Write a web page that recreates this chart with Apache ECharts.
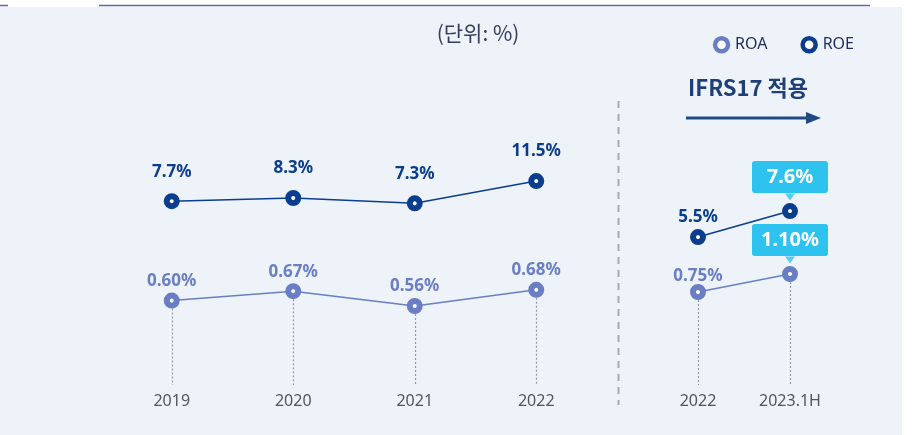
<!DOCTYPE html>
<html>
<head>
<meta charset="utf-8">
<script src="https://cdn.jsdelivr.net/npm/echarts@6/dist/echarts.min.js"></script>
<style>
  html, body { margin: 0; padding: 0; background: #fff; }
  #main { width: 916px; height: 435px; }
</style>
</head>
<body>
<div id="main"></div>
<script>
// data
const years = ['2019', '2020', '2021', '2022']
const roeBefore = [7.7, 8.3, 7.3, 11.5]
const roaBefore = [0.60, 0.67, 0.56, 0.68]
const periodsAfter = ['2022', '2023.1H']
const roeAfter = [5.5, 7.6]
const roaAfter = [0.75, 1.10]

const NAVY = '#0b3d8e'
const ROA_C = '#6a7ec3'
const CYAN = '#2ec3ef'
const FONT = "'Noto Sans', 'Noto Sans CJK KR', sans-serif"

const roaMinL = -0.025, roaMinR = -1.058

let myChart = echarts.init(document.getElementById('main'))

function pointStyle(color) {
  return { color: '#fff', borderColor: color, borderWidth: 6 }
}

function valueLabel(color, digits, distance) {
  return {
    show: true, position: 'top', distance: distance,
    color: color, fontSize: 17, fontWeight: 'bold', fontFamily: FONT,
    formatter: p => p.value.toFixed(digits) + '%'
  }
}

// last point of the right side gets the cyan callout box
function calloutData(values, digits) {
  return values.map((v, i) => {
    if (i < values.length - 1) return v
    return {
      value: v,
      label: {
        show: true, position: 'top', distance: 10,
        backgroundColor: CYAN, color: '#fff', borderRadius: 3,
        fontSize: 20, fontWeight: 'bold', fontFamily: FONT,
        width: 76, height: 22, lineHeight: 22, padding: [5, 0], align: 'center',
        formatter: p => p.value.toFixed(digits) + '%'
      }
    }
  })
}

function dropLines(cats, values, min) {
  return {
    silent: true, symbol: 'none', label: { show: false },
    lineStyle: { type: [2, 2], color: '#9a9a9a', width: 1.2 },
    data: cats.map((c, i) => [{ coord: [c, values[i]] }, { coord: [c, min] }])
  }
}

const xCommon = {
  type: 'category', boundaryGap: true,
  axisLine: { show: false }, axisTick: { show: false }, splitLine: { show: false },
  axisLabel: { color: '#555', fontSize: 16, fontFamily: FONT, margin: 8 }
}

const option = {
  backgroundColor: '#fff',
  animation: false,
  textStyle: { fontFamily: FONT },
  legend: {
    right: 57, top: 31,
    itemWidth: 13, itemHeight: 13, itemGap: 33,
    textStyle: { color: '#1d2b5c', fontSize: 16, fontFamily: FONT, padding: [0, 0, 0, 2] },
    data: [
      { name: 'ROA', icon: 'circle', itemStyle: { color: '#fff', borderColor: ROA_C, borderWidth: 4.5 } },
      { name: 'ROE', icon: 'circle', itemStyle: { color: '#fff', borderColor: NAVY, borderWidth: 4.5 } }
    ],
    selectedMode: false
  },
  graphic: [
    { type: 'rect', z: -10, shape: { x: 0, y: 7, width: 902, height: 428 }, style: { fill: '#eef3fa' } },
    { type: 'line', shape: { x1: 99, y1: 5.5, x2: 870, y2: 5.5 }, style: { stroke: '#5f67a8', lineWidth: 1.5 } },
    { type: 'line', shape: { x1: 0, y1: 5.5, x2: 8, y2: 5.5 }, style: { stroke: '#5f67a8', lineWidth: 1.5 } },
    { type: 'text', x: 478, y: 33, style: { text: '(단위: %)', fill: '#363c5a', fontSize: 21, fontFamily: "'Noto Sans CJK KR', sans-serif", align: 'center', verticalAlign: 'middle' } },
    { type: 'text', x: 748, y: 88, style: { text: 'IFRS17 적용', fill: '#1f3f78', fontSize: 22, fontWeight: 'bold', fontFamily: "'Noto Sans CJK KR', sans-serif", align: 'center', verticalAlign: 'middle' } },
    { type: 'line', shape: { x1: 686, y1: 118, x2: 810, y2: 118 }, style: { stroke: '#1f4a82', lineWidth: 3 } },
    { type: 'polygon', shape: { points: [[806, 112], [821, 118], [806, 124]] }, style: { fill: '#1f4a82' } },
    { type: 'line', shape: { x1: 618.5, y1: 101, x2: 618.5, y2: 405 }, style: { stroke: '#aaaaaa', lineWidth: 2, lineDash: [7, 6] } }
  ],
  grid: [
    { left: 111, width: 486, top: 100, bottom: 50 },
    { left: 652, width: 184, top: 100, bottom: 50 }
  ],
  xAxis: [
    Object.assign({ gridIndex: 0, data: years }, xCommon),
    Object.assign({ gridIndex: 1, data: periodsAfter }, xCommon)
  ],
  yAxis: [
    { gridIndex: 0, type: 'value', show: false, min: -27, max: 26.8 },
    { gridIndex: 0, type: 'value', show: false, min: roaMinL, max: 2.086 },
    { gridIndex: 1, type: 'value', show: false, min: -6.45, max: 16.57 },
    { gridIndex: 1, type: 'value', show: false, min: roaMinR, max: 4.483 }
  ],
  series: [
    {
      name: 'ROE', type: 'line', xAxisIndex: 0, yAxisIndex: 0, data: roeBefore,
      symbol: 'circle', symbolSize: 10, z: 5,
      lineStyle: { color: NAVY, width: 1.5 }, itemStyle: pointStyle(NAVY),
      label: valueLabel(NAVY, 1, 13), emphasis: { disabled: true }
    },
    {
      name: 'ROA', type: 'line', xAxisIndex: 0, yAxisIndex: 1, data: roaBefore,
      symbol: 'circle', symbolSize: 10, z: 5,
      lineStyle: { color: ROA_C, width: 1.5 }, itemStyle: pointStyle(ROA_C),
      label: valueLabel(ROA_C, 2, 3), emphasis: { disabled: true },
      markLine: dropLines(years, roaBefore, roaMinL)
    },
    {
      name: 'ROE', type: 'line', xAxisIndex: 1, yAxisIndex: 2, data: calloutData(roeAfter, 1),
      symbol: 'circle', symbolSize: 10, z: 5,
      lineStyle: { color: NAVY, width: 1.5 }, itemStyle: pointStyle(NAVY),
      label: valueLabel(NAVY, 1, 3), emphasis: { disabled: true }
    },
    {
      name: 'ROA', type: 'line', xAxisIndex: 1, yAxisIndex: 3, data: calloutData(roaAfter, 2),
      symbol: 'circle', symbolSize: 10, z: 5,
      lineStyle: { color: ROA_C, width: 1.5 }, itemStyle: pointStyle(ROA_C),
      label: valueLabel(ROA_C, 2, -1), emphasis: { disabled: true },
      markLine: dropLines(periodsAfter, roaAfter, roaMinR)
    },
    // callout pointers
    {
      name: 'pointerROE', type: 'scatter', xAxisIndex: 1, yAxisIndex: 2, silent: true, z: 6,
      data: [[periodsAfter[1], roeAfter[1]]],
      symbol: 'path://M0,0L10,0L5,7Z', symbolSize: [10, 7], symbolOffset: [0, -14],
      itemStyle: { color: CYAN }
    },
    {
      name: 'pointerROA', type: 'scatter', xAxisIndex: 1, yAxisIndex: 3, silent: true, z: 6,
      data: [[periodsAfter[1], roaAfter[1]]],
      symbol: 'path://M0,0L10,0L5,7Z', symbolSize: [10, 7], symbolOffset: [0, -14],
      itemStyle: { color: CYAN }
    }
  ]
}

myChart.setOption(option)
</script>
</body>
</html>
